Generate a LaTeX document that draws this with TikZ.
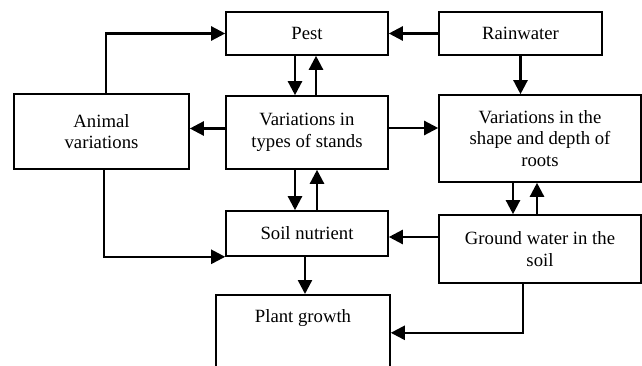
\documentclass[tikz,border=0pt]{standalone}
\usepackage{fontspec}
\setmainfont{Liberation Serif}
\usetikzlibrary{arrows.meta}

\begin{document}
\begin{tikzpicture}[x=1pt,y=-1pt,
		bigbox/.style={draw,line width=1.6pt,align=center,inner sep=0pt,
		font=\fontsize{18.7}{21.7}\selectfont},
		link/.style={->,line width=2.4pt},
		>={Triangle[length=14pt,width=14pt]}
		]
		\clip (0,0) rectangle (642,366);

		\node[bigbox,minimum width=162pt,minimum height=43pt](pest) at (307,33.5){Pest};
		\node[bigbox,minimum width=163pt,minimum height=43pt](rain) at (520.5,33.5){Rainwater};
		\node[bigbox,minimum width=175pt,minimum height=75pt](animal) at (101.5,131.5){Animal\\variations};
		\node[bigbox,minimum width=162pt,minimum height=73pt](stands) at (307,132.5){Variations in\\types of stands};
		\node[bigbox,minimum width=202pt,minimum height=87pt](roots) at (540,138.5){Variations in the\\shape and depth of\\roots};
		\node[bigbox,minimum width=162pt,minimum height=45pt](soil) at (307,233.5){Soil nutrient};
		\node[bigbox,minimum width=202pt,minimum height=68pt](ground) at (540,249){Ground water in the\\soil};
		\node[bigbox,minimum width=174pt,text height=28pt,text depth=48pt,anchor=north](plant) at (303,294){Plant growth};

		\draw[link] ([xshift=4.5pt]animal.north) |- (pest.west);
		\draw[link] ([xshift=-12pt]pest.south) -- ([xshift=-12pt]stands.north);
		\draw[link] ([xshift=9pt]stands.north) -- ([xshift=9pt]pest.south);
		\draw[link] ([yshift=4pt]stands.west) -- ([yshift=4pt]stands.west -| animal.east);
		\draw[link] (rain.west) -- (pest.east);
		\draw[link] (rain.south) -- (rain.south |- roots.north);
		\draw[link] ([yshift=4.5pt]stands.east) -- ([yshift=4.5pt]stands.east -| roots.west);
		\draw[link] ([xshift=-12pt]stands.south) -- ([xshift=-12pt]soil.north);
		\draw[link] ([xshift=10pt]soil.north) -- ([xshift=10pt]stands.south);
		\draw[link] ([xshift=2.5pt]animal.south) |- (soil.south west);
		\draw[link] ([xshift=-2pt]soil.south) -- ([xshift=-2pt]soil.south |- plant.north);
		\draw[link] ([xshift=-27pt]roots.south) -- ([xshift=-27pt]ground.north);
		\draw[link] ([xshift=-3pt]ground.north) -- ([xshift=-3pt]roots.south);
		\draw[link] ([yshift=12pt]ground.west) -- ([yshift=12pt]ground.west -| soil.east);
		\draw[link] ([xshift=-17pt]ground.south) |- (plant.east);
	\end{tikzpicture}
\end{document}
